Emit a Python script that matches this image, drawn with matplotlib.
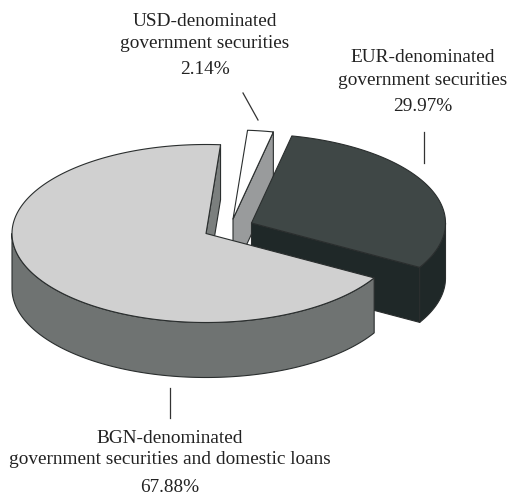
import numpy as np
import matplotlib
matplotlib.use("Agg")
import matplotlib.pyplot as plt
from matplotlib.patches import Polygon

# Portfolio shares, percent
names = ["BGN", "EUR", "USD"]
shares = [67.88, 29.97, 2.14]
labels = [
    ["BGN-denominated", "government securities and domestic loans", "67.88%"],
    ["EUR-denominated", "government securities", "29.97%"],
    ["USD-denominated", "government securities", "2.14%"],
]

# Colours per slice: top face, outer wall, radial wall
top_colors = ["#d0d0d0", "#3f4746", "#ffffff"]
wall_colors = ["#6f7372", "#1f2828", "#999b9c"]
radial_colors = ["#7b7f7e", "#1f2828", "#999b9c"]

# Projection of the disc, in pixel units
CX, CY = 206.0, 233.5
RX, RY = 194.0, 89.0
DEPTH = 55.0
START_ANGLE = 85.7  # first slice runs counter-clockwise from here
OFFSETS = {"BGN": (0.0, 0.0), "EUR": (45.5, -10.5), "USD": (27.0, -14.5)}
EDGE = "#2a2e2e"
LW = 0.8

# Label anchors: centre x and the y of each of the three lines
LABEL_X = [170, 423, 205]
LABEL_Y = [(438, 459, 487), (57.5, 80.5, 106), (21.5, 43, 69)]

fig = plt.figure(figsize=(5.13, 4.94), dpi=100)
ax = fig.add_axes([0, 0, 1, 1])
ax.set_xlim(0, 513)
ax.set_ylim(494, 0)
ax.axis("off")


def rim(theta, off):
    t = np.radians(theta)
    return np.column_stack((CX + off[0] + RX * np.cos(t),
                            CY + off[1] - RY * np.sin(t)))


def poly(points, color, z):
    ax.add_patch(Polygon(points, closed=True, facecolor=color, edgecolor=EDGE,
                         linewidth=LW, joinstyle="round", zorder=z))


# Slice spans in degrees, taken from the shares
sweeps = np.array(shares) / sum(shares) * 360.0
starts = START_ANGLE + np.concatenate(([0.0], np.cumsum(sweeps)[:-1]))


def draw_slice(i, z):
    off = OFFSETS[names[i]]
    a0, a1 = starts[i], starts[i] + sweeps[i]
    centre = np.array([[CX + off[0], CY + off[1]]])
    below = np.array([[0.0, DEPTH]])

    # The radial wall at the start angle faces the viewer on every slice
    edge_pt = rim(a0, off)
    poly(np.vstack((centre, edge_pt, edge_pt + below, centre + below)),
         radial_colors[i], z)

    # Outer wall: only the part on the near side of the disc shows
    for lo, hi in ((180.0, 360.0), (540.0, 720.0)):
        t0, t1 = max(a0, lo), min(a1, hi)
        if t1 > t0:
            arc = rim(np.linspace(t0, t1, 160), off)
            poly(np.vstack((arc, arc[::-1] + below)), wall_colors[i], z + 0.1)

    # Top face
    arc = rim(np.linspace(a0, a1, 240), off)
    poly(np.vstack((centre, arc)), top_colors[i], z + 0.2)


# Back to front
draw_slice(2, 1)
draw_slice(1, 3)
draw_slice(0, 4)

# Label text and leader lines
serif = dict(family="Liberation Serif", fontsize=13.85, color="#222222",
             ha="center", va="center")
for x, ys, lines in zip(LABEL_X, LABEL_Y, labels):
    for y, line in zip(ys, lines):
        ax.text(x, y, line, zorder=6, **serif)

leader = dict(color="#333333", linewidth=0.9, zorder=6)
ax.plot([170, 170], [388, 418], **leader)
ax.plot([423.5, 423.5], [132, 163], **leader)
ax.plot([243, 258], [93, 120], **leader)

fig.savefig("out.png", dpi=100)
